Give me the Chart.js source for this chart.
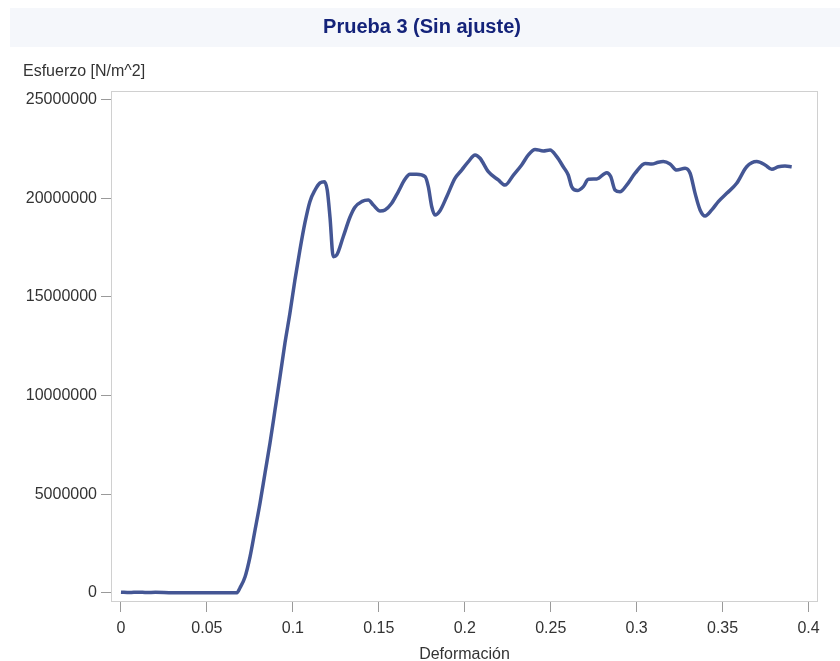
<!DOCTYPE html>
<html>
<head>
<meta charset="utf-8">
<script src="https://cdn.jsdelivr.net/npm/chart.js@4/dist/chart.umd.min.js"></script>
<style>
  html, body { margin: 0; padding: 0; background: #ffffff; }
  #chart { display: block; }
</style>
</head>
<body>
<canvas id="chart" width="840" height="661"></canvas>
<script>
// Deformación (x) y esfuerzo [N/m^2] (y)
const strain = [
    0, 0.005, 0.01, 0.015, 0.02, 0.03, 0.04, 0.05, 0.06, 0.0675,
    0.0692, 0.0722, 0.0751, 0.078, 0.0809, 0.0838, 0.0867, 0.0896, 0.0925, 0.0954,
    0.0983, 0.1012, 0.1041, 0.107, 0.1099, 0.1129, 0.1158, 0.1183, 0.12, 0.1216,
    0.1235, 0.1255, 0.1293, 0.1332, 0.1361, 0.14, 0.1439, 0.1468, 0.1507, 0.1536,
    0.1575, 0.1613, 0.1652, 0.1681, 0.172, 0.1769, 0.1788, 0.1808, 0.1827, 0.1856,
    0.1895, 0.1943, 0.1982, 0.2021, 0.206, 0.2089, 0.2137, 0.2195, 0.2234, 0.2283,
    0.2331, 0.237, 0.2409, 0.2457, 0.2496, 0.2535, 0.2573, 0.2602, 0.2622, 0.2655,
    0.269, 0.2719, 0.2768, 0.2826, 0.2849, 0.2874, 0.2903, 0.2942, 0.2991, 0.3049,
    0.3088, 0.3126, 0.3155, 0.3194, 0.3233, 0.3282, 0.3311, 0.334, 0.3369, 0.3398,
    0.3437, 0.3475, 0.3524, 0.3582, 0.364, 0.3699, 0.3747, 0.3786, 0.3824, 0.3863, 0.3902
];
const stress = [
    30000, 10000, 30000, 10000, 20000, 0, 0, 0, 0, 0,
    240000, 810000, 1830000, 3180000, 4550000, 6070000, 7590000, 9260000, 10940000, 12660000,
    14180000, 15860000, 17380000, 18750000, 19830000, 20420000, 20780000, 20840000, 20420000, 19040000,
    17040000, 17120000, 18050000, 19040000, 19550000, 19830000, 19910000, 19660000, 19360000, 19410000,
    19750000, 20330000, 20960000, 21220000, 21220000, 21100000, 20590000, 19570000, 19150000, 19370000,
    20080000, 21010000, 21430000, 21860000, 22200000, 22030000, 21350000, 20930000, 20670000, 21180000,
    21690000, 22200000, 22480000, 22400000, 22450000, 22110000, 21600000, 21180000, 20590000, 20390000,
    20590000, 20960000, 20980000, 21300000, 21100000, 20420000, 20330000, 20670000, 21270000, 21770000,
    21740000, 21830000, 21860000, 21740000, 21430000, 21520000, 21270000, 20250000, 19410000, 19100000,
    19410000, 19830000, 20250000, 20760000, 21600000, 21860000, 21690000, 21470000, 21600000, 21640000, 21600000
];
const xTicks = [0, 0.05, 0.1, 0.15, 0.2, 0.25, 0.3, 0.35, 0.4];
const yTicks = [0, 5000000, 10000000, 15000000, 20000000, 25000000];

const chartTitle = 'Prueba 3 (Sin ajuste)';
const xTitle = 'Deformación';
const yTitle = 'Esfuerzo [N/m^2]';

const FONT = '"Liberation Sans", Arial, sans-serif';
const textColor = '#333333';

// Title band, frame and axis titles
const decorations = {
    id: 'decorations',
    beforeDraw(chart) {
        const ctx = chart.ctx;
        ctx.save();
        ctx.fillStyle = '#f5f7fb';
        ctx.fillRect(10, 8, 830, 39);
        ctx.restore();
    },
    afterDraw(chart) {
        const ctx = chart.ctx;
        const area = chart.chartArea;
        ctx.save();
        ctx.strokeStyle = '#d0d0d0';
        ctx.lineWidth = 1;
        ctx.strokeRect(area.left + 0.5, area.top + 0.5, area.right - area.left - 1, area.bottom - area.top - 1);

        ctx.fillStyle = '#14237a';
        ctx.font = 'bold 20px ' + FONT;
        ctx.textAlign = 'center';
        ctx.textBaseline = 'middle';
        ctx.fillText(chartTitle, 422, 27);

        ctx.fillStyle = textColor;
        ctx.font = '16px ' + FONT;
        ctx.textAlign = 'left';
        ctx.fillText(yTitle, 23, 72);

        ctx.textAlign = 'center';
        ctx.fillText(xTitle, (area.left + area.right) / 2, 655);
        ctx.restore();
    }
};

new Chart(document.getElementById('chart'), {
    type: 'line',
    data: {
        datasets: [{
            label: 'Esfuerzo',
            data: strain.map((x, i) => ({ x: x, y: stress[i] })),
            borderColor: '#445694',
            borderWidth: 3.5,
            pointRadius: 0,
            fill: false,
            cubicInterpolationMode: 'monotone'
        }]
    },
    options: {
        responsive: false,
        devicePixelRatio: 1,
        animation: false,
        layout: {
            padding: { top: 91, right: 22, left: 0, bottom: 0 }
        },
        plugins: {
            legend: { display: false },
            title: { display: false },
            tooltip: { enabled: false }
        },
        scales: {
            x: {
                type: 'linear',
                min: -0.0058,
                max: 0.4055,
                afterBuildTicks: (scale) => { scale.ticks = xTicks.map(v => ({ value: v })); },
                afterFit: (scale) => { scale.height = 59; },
                ticks: {
                    color: textColor,
                    font: { family: FONT, size: 16 },
                    padding: 7,
                    maxRotation: 0,
                    callback: (v) => String(v)
                },
                grid: {
                    drawOnChartArea: false,
                    drawTicks: true,
                    tickLength: 10,
                    color: '#9a9a9a'
                },
                border: { display: false }
            },
            y: {
                min: -470000,
                max: 25440000,
                afterBuildTicks: (scale) => { scale.ticks = yTicks.map(v => ({ value: v })); },
                afterFit: (scale) => { scale.width = 111; },
                ticks: {
                    color: textColor,
                    font: { family: FONT, size: 16 },
                    padding: 4,
                    callback: (v) => String(v)
                },
                grid: {
                    drawOnChartArea: false,
                    drawTicks: true,
                    tickLength: 10,
                    color: '#9a9a9a'
                },
                border: { display: false }
            }
        }
    },
    plugins: [decorations]
});
</script>
</body>
</html>
